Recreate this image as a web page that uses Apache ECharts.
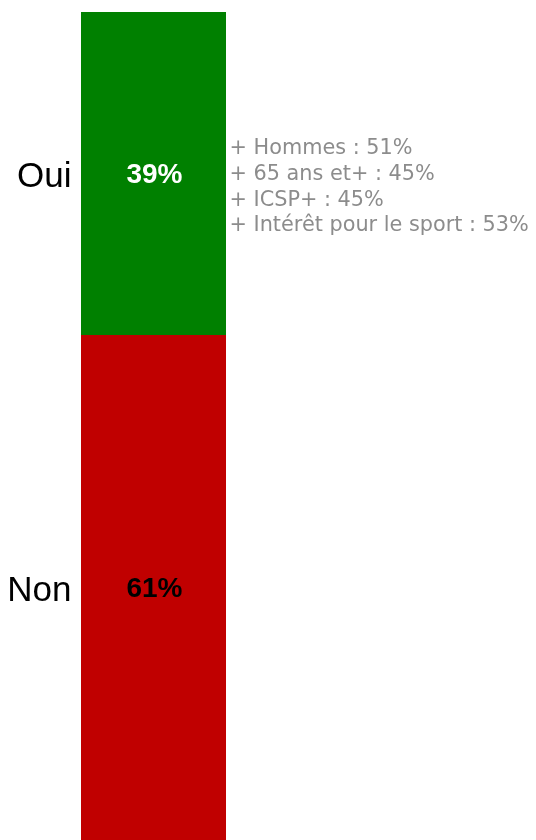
<!DOCTYPE html>
<html><head><meta charset="utf-8">
<script src="https://cdn.jsdelivr.net/npm/echarts@6/dist/echarts.min.js"></script>
<style>html,body{margin:0;padding:0;background:#fff}#c{width:536px;height:840px}</style>
</head><body><div id="c"></div>
<script>
const categories = ['Total'];
const answers = ['Non', 'Oui'];
const values = [61, 39];
const colors = ['#c00000', '#008000'];
const labelColors = ['#000000', '#ffffff'];
const notes = ['+ Hommes : 51%', '+ 65 ans et+ : 45%', '+ ICSP+ : 45%', '+ Intérêt pour le sport : 53%'];

const FONT = 'Liberation Sans';
const NOTE_FONT = 'DejaVu Sans';
const chart = echarts.init(document.getElementById('c'), null, {renderer: 'canvas'});

const barSeries = answers.map((a, i) => ({
  type: 'bar', name: a, stack: 'total', barWidth: '100%',
  data: [values[i]],
  itemStyle: {color: colors[i]},
  label: {show: true, position: 'inside', formatter: values[i] + '%', color: labelColors[i],
          fontFamily: FONT, fontWeight: 'bold', fontSize: 28, offset: [1, 2]},
  silent: true
}));

let cum = 0;
const mids = values.map(v => { const m = cum + v / 2; cum += v; return m; });

const nameSeries = {
  type: 'scatter', symbolSize: 0, silent: true,
  itemStyle: {opacity: 1},
  data: answers.map((a, i) => ({value: ['Total', mids[i]], name: a})),
  label: {show: true, position: 'left', distance: 82, formatter: p => p.name,
          color: '#000', fontFamily: FONT, fontSize: 35, offset: [0, 4]}
};

const noteSeries = {
  type: 'scatter', symbolSize: 0, silent: true,
  itemStyle: {opacity: 1},
  data: [{value: ['Total', mids[1]]}],
  label: {show: true, position: 'right', distance: 76, formatter: notes.join('\n'),
          color: '#8c8c8c', fontFamily: NOTE_FONT, fontSize: 20.8, lineHeight: 25.6, offset: [0, 14]}
};

chart.setOption({
  animation: false,
  grid: {left: 81, width: 145, top: 12, height: 833},
  xAxis: {type: 'category', data: categories, show: false},
  yAxis: {type: 'value', min: 0, max: 100, show: false},
  series: [...barSeries, nameSeries, noteSeries]
});
</script></body></html>
